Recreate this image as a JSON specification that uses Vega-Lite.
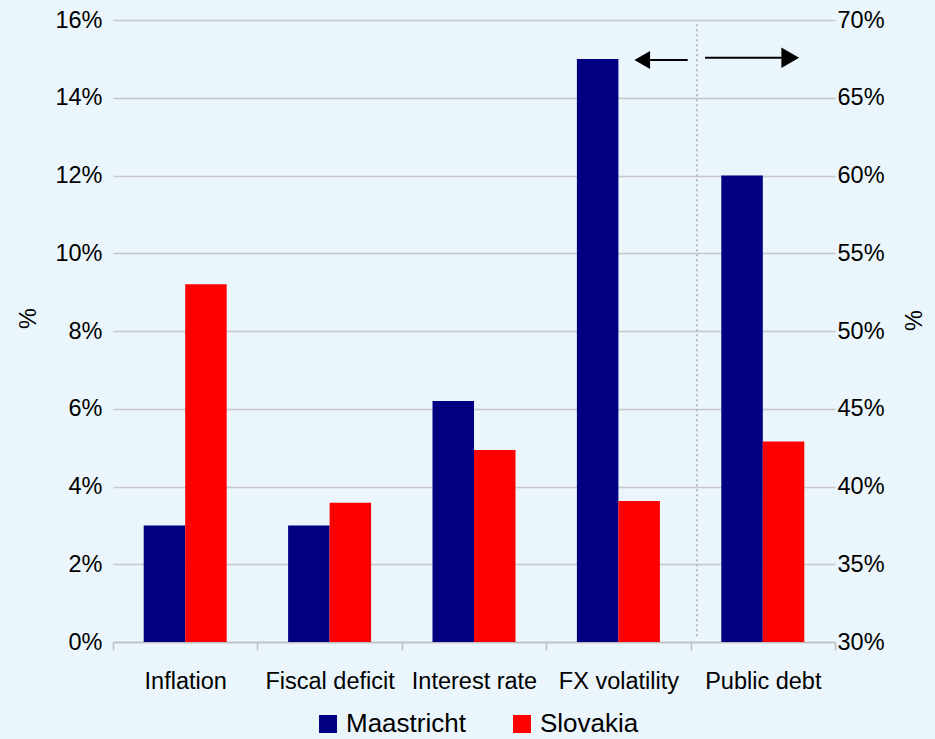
{
  "$schema": "https://vega.github.io/schema/vega-lite/v6.json",
  "width": 722,
  "height": 622,
  "autosize": {"type": "none"},
  "padding": {"left": 113, "top": 20, "right": 100, "bottom": 97},
  "background": "#eaf5fc",
  "config": {
    "view": {"stroke": null},
    "font": "Liberation Sans",
    "axis": {"labelColor": "#000000", "titleColor": "#000000", "labelFont": "Liberation Sans", "titleFont": "Liberation Sans"},
    "legend": {"labelFont": "Liberation Sans", "labelColor": "#000000"}
  },
  "datasets": {
    "bars": [
      {"indicator": "Inflation", "series": "Maastricht", "value": 3.0, "axis": "left"},
      {"indicator": "Inflation", "series": "Slovakia", "value": 9.2, "axis": "left"},
      {"indicator": "Fiscal deficit", "series": "Maastricht", "value": 3.0, "axis": "left"},
      {"indicator": "Fiscal deficit", "series": "Slovakia", "value": 3.58, "axis": "left"},
      {"indicator": "Interest rate", "series": "Maastricht", "value": 6.2, "axis": "left"},
      {"indicator": "Interest rate", "series": "Slovakia", "value": 4.94, "axis": "left"},
      {"indicator": "FX volatility", "series": "Maastricht", "value": 15.0, "axis": "left"},
      {"indicator": "FX volatility", "series": "Slovakia", "value": 3.63, "axis": "left"},
      {"indicator": "Public debt", "series": "Maastricht", "value": 60.0, "axis": "right"},
      {"indicator": "Public debt", "series": "Slovakia", "value": 42.9, "axis": "right"}
    ],
    "divider": [{"x": 4.044, "y": 0.15, "y2": 15.93}],
    "arrowLeft": [{"x": 3.72, "x2": 3.98, "y": 14.97, "hx": 3.665}],
    "arrowRight": [{"x": 4.10, "x2": 4.63, "y": 15.03, "hx": 4.69}]
  },
  "layer": [
    {
      "data": {"name": "bars"},
      "transform": [{"filter": "datum.axis === 'left'"}],
      "mark": {"type": "bar"},
      "encoding": {
        "x": {
          "field": "indicator", "type": "nominal",
          "scale": {"domain": ["Inflation", "Fiscal deficit", "Interest rate", "FX volatility", "Public debt"], "paddingInner": 0, "paddingOuter": 0},
          "axis": {"title": null, "labelAngle": 0, "labelFontSize": 23.5, "labelPadding": 19, "domainColor": "#c0c0c0", "domainWidth": 1.5, "tickColor": "#c0c0c0", "tickWidth": 1.5, "tickSize": 8, "tickBand": "extent", "grid": false}
        },
        "xOffset": {"field": "series", "type": "nominal", "scale": {"domain": ["Maastricht", "Slovakia"], "paddingInner": 0, "paddingOuter": 0.74}},
        "y": {
          "field": "value", "type": "quantitative",
          "scale": {"domain": [0, 16], "nice": false},
          "axis": {"title": "%", "titleAngle": 270, "titleFontSize": 23.5, "titleFontWeight": "normal", "titlePadding": 14, "titleY": 298, "values": [0, 2, 4, 6, 8, 10, 12, 14, 16], "labelExpr": "datum.value + '%'", "labelFontSize": 23.5, "labelPadding": 11, "domain": false, "ticks": false, "grid": true, "gridColor": "#c8c8c8", "gridWidth": 1.5}
        },
        "color": {
          "field": "series", "type": "nominal",
          "scale": {"domain": ["Maastricht", "Slovakia"], "range": ["#000080", "#ff0000"]},
          "legend": {"title": null, "orient": "none", "legendX": 202, "legendY": 691, "direction": "horizontal", "symbolType": "square", "symbolSize": 324, "symbolStrokeWidth": 0, "labelFontSize": 26, "labelOffset": 5, "columnPadding": 43}
        }
      }
    },
    {
      "data": {"name": "bars"},
      "transform": [{"filter": "datum.axis === 'right'"}],
      "mark": {"type": "bar"},
      "encoding": {
        "x": {
          "field": "indicator", "type": "nominal",
          "scale": {"domain": ["Inflation", "Fiscal deficit", "Interest rate", "FX volatility", "Public debt"], "paddingInner": 0, "paddingOuter": 0},
          "axis": null
        },
        "xOffset": {"field": "series", "type": "nominal", "scale": {"domain": ["Maastricht", "Slovakia"], "paddingInner": 0, "paddingOuter": 0.74}},
        "y": {
          "field": "value", "type": "quantitative",
          "scale": {"domain": [30, 70], "nice": false, "zero": false},
          "axis": {"orient": "right", "title": "%", "titleAngle": 270, "titleFontSize": 23.5, "titleFontWeight": "normal", "titlePadding": 42, "titleY": 300, "values": [30, 35, 40, 45, 50, 55, 60, 65, 70], "labelExpr": "datum.value + '%'", "labelFontSize": 23.5, "labelPadding": 2, "domain": false, "ticks": false, "grid": false}
        },
        "y2": {"datum": 30},
        "color": {"field": "series", "type": "nominal"}
      }
    },
    {
      "data": {"name": "divider"},
      "mark": {"type": "rule", "color": "#a8a8a8", "strokeWidth": 1.5, "strokeDash": [2, 3]},
      "encoding": {
        "x": {"field": "x", "type": "quantitative", "scale": {"domain": [0, 5], "nice": false, "zero": false}, "axis": null},
        "y": {"field": "y", "type": "quantitative", "scale": {"domain": [0, 16], "nice": false}, "axis": null},
        "y2": {"field": "y2"}
      }
    },
    {
      "data": {"name": "arrowLeft"},
      "mark": {"type": "rule", "color": "#000000", "strokeWidth": 2},
      "encoding": {
        "x": {"field": "x", "type": "quantitative", "scale": {"domain": [0, 5], "nice": false, "zero": false}, "axis": null},
        "x2": {"field": "x2"},
        "y": {"field": "y", "type": "quantitative", "scale": {"domain": [0, 16], "nice": false}, "axis": null}
      }
    },
    {
      "data": {"name": "arrowLeft"},
      "mark": {"type": "point", "shape": "triangle-left", "filled": true, "color": "#000000", "size": 330, "opacity": 1},
      "encoding": {
        "x": {"field": "hx", "type": "quantitative", "scale": {"domain": [0, 5], "nice": false, "zero": false}, "axis": null},
        "y": {"field": "y", "type": "quantitative", "scale": {"domain": [0, 16], "nice": false}, "axis": null}
      }
    },
    {
      "data": {"name": "arrowRight"},
      "mark": {"type": "rule", "color": "#000000", "strokeWidth": 2},
      "encoding": {
        "x": {"field": "x", "type": "quantitative", "scale": {"domain": [0, 5], "nice": false, "zero": false}, "axis": null},
        "x2": {"field": "x2"},
        "y": {"field": "y", "type": "quantitative", "scale": {"domain": [0, 16], "nice": false}, "axis": null}
      }
    },
    {
      "data": {"name": "arrowRight"},
      "mark": {"type": "point", "shape": "triangle-right", "filled": true, "color": "#000000", "size": 420, "opacity": 1},
      "encoding": {
        "x": {"field": "hx", "type": "quantitative", "scale": {"domain": [0, 5], "nice": false, "zero": false}, "axis": null},
        "y": {"field": "y", "type": "quantitative", "scale": {"domain": [0, 16], "nice": false}, "axis": null}
      }
    }
  ],
  "resolve": {"scale": {"x": "independent", "y": "independent", "xOffset": "independent"}}
}
